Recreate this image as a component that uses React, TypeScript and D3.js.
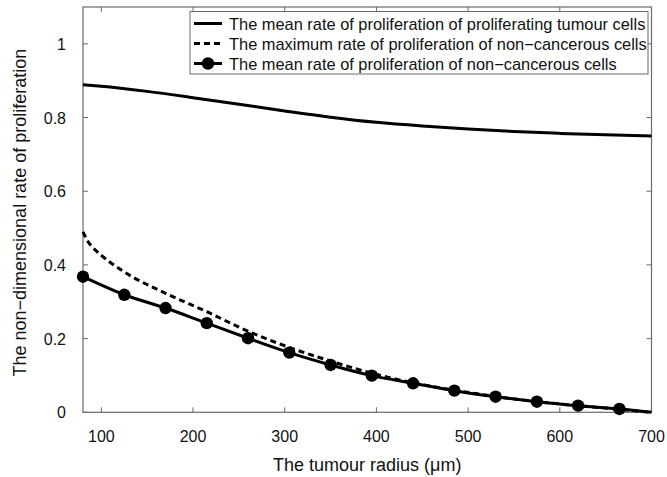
import React from "react";
import * as d3 from "d3";

const xTicks = [100, 200, 300, 400, 500, 600, 700];
const yTicks = [0, 0.2, 0.4, 0.6, 0.8, 1];
const yTickLabels = ["0", "0.2", "0.4", "0.6", "0.8", "1"];

const tumourX = [80, 100, 150, 200, 250, 300, 350, 400, 450, 500, 550, 600, 650, 700];
const tumourY = [0.889, 0.885, 0.871, 0.854, 0.836, 0.818, 0.801, 0.787, 0.777, 0.769, 0.762, 0.757, 0.753, 0.75];

const maxX = [80, 85, 92, 100, 125, 170, 215, 260, 305, 350, 395, 440, 485, 530, 575, 620, 665, 700];
const maxY = [0.49, 0.465, 0.444, 0.426, 0.381, 0.323, 0.273, 0.22, 0.176, 0.139, 0.106, 0.08, 0.06, 0.043, 0.029, 0.018, 0.008, 0.0];

const meanX = [80, 125, 170, 215, 260, 305, 350, 395, 440, 485, 530, 575, 620, 665, 700];
const meanY = [0.368, 0.319, 0.283, 0.242, 0.201, 0.162, 0.1285, 0.0995, 0.0788, 0.0587, 0.0424, 0.0288, 0.018, 0.009, 0.0];
const markerCount = 14;

const legendLabels = [
  "The mean rate of proliferation of proliferating tumour cells",
  "The maximum rate of proliferation of non\u2212cancerous cells",
  "The mean rate of proliferation of non\u2212cancerous cells",
];

const W = 667;
const H = 477;
const M = { left: 83, right: 667 - 651.5, top: 7, bottom: 477 - 412.3 };
const FONT = "'Liberation Sans', Arial, Helvetica, sans-serif";

export default function App() {
  const x = d3.scaleLinear().domain([80, 700]).range([M.left, W - M.right]);
  const y = d3.scaleLinear().domain([0, 1.1]).range([H - M.bottom, M.top]);
  const line = d3
    .line<[number, number]>()
    .x((d) => x(d[0]))
    .y((d) => y(d[1]))
    .curve(d3.curveMonotoneX);

  const tumour = tumourX.map((v, i) => [v, tumourY[i]] as [number, number]);
  const maxd = maxX.map((v, i) => [v, maxY[i]] as [number, number]);
  const mean = meanX.map((v, i) => [v, meanY[i]] as [number, number]);

  const x0 = M.left;
  const x1 = W - M.right;
  const y0 = H - M.bottom;
  const y1 = M.top;
  const tickLen = 5;
  const frameColor = "#6a6a6a";

  const lg = { left: 190, top: 11.5, right: 648, rowH: 20 };
  const lgBottom = 74;

  return (
    <svg width={W} height={H} style={{ position: "absolute", left: 0, top: 0, background: "#fff" }} fontFamily={FONT}>
      <rect x={0} y={0} width={W} height={H} fill="#fff" />
      {/* frame */}
      <rect x={x0} y={y1} width={x1 - x0} height={y0 - y1} fill="none" stroke={frameColor} strokeWidth={1.2} />
      {xTicks.map((t) => (
        <g key={"xt" + t}>
          <line x1={x(t)} x2={x(t)} y1={y0} y2={y0 - tickLen} stroke={frameColor} strokeWidth={1} />
          <line x1={x(t)} x2={x(t)} y1={y1} y2={y1 + tickLen} stroke={frameColor} strokeWidth={1} />
          <text x={x(t)} y={442} textAnchor="middle" fontSize={16} fill="#111">
            {t}
          </text>
        </g>
      ))}
      {yTicks.map((t, i) => (
        <g key={"yt" + t}>
          <line x1={x0} x2={x0 + tickLen} y1={y(t)} y2={y(t)} stroke={frameColor} strokeWidth={1} />
          <line x1={x1} x2={x1 - tickLen} y1={y(t)} y2={y(t)} stroke={frameColor} strokeWidth={1} />
          <text x={66} y={y(t) + 6} textAnchor="end" fontSize={16} fill="#111">
            {yTickLabels[i]}
          </text>
        </g>
      ))}
      {/* curves */}
      <path d={line(tumour) || ""} fill="none" stroke="#000" strokeWidth={3} />
      <path d={line(maxd) || ""} fill="none" stroke="#000" strokeWidth={3} strokeDasharray="6,4" />
      <path d={line(mean) || ""} fill="none" stroke="#000" strokeWidth={3} />
      {mean.slice(0, markerCount).map((d, i) => (
        <circle key={"m" + i} cx={x(d[0])} cy={y(d[1])} r={6.2} fill="#000" />
      ))}
      {/* axis titles */}
      <text x={(x0 + x1) / 2} y={471} textAnchor="middle" fontSize={18} fill="#111">
        The tumour radius ({"\u03bc"}m)
      </text>
      <text transform={`translate(26, ${(y0 + y1) / 2 + 3}) rotate(-90)`} textAnchor="middle" fontSize={18} fill="#111">
        The non{"\u2212"}dimensional rate of proliferation
      </text>
      {/* legend */}
      <rect x={lg.left} y={lg.top} width={lg.right - lg.left} height={lgBottom - lg.top} fill="#fff" stroke={frameColor} strokeWidth={1} />
      {legendLabels.map((lab, i) => {
        const cy = 23.5 + i * lg.rowH;
        return (
          <g key={"lg" + i}>
            <line
              x1={lg.left + 4}
              x2={lg.left + 32}
              y1={cy}
              y2={cy}
              stroke="#000"
              strokeWidth={3}
              strokeDasharray={i === 1 ? "6,4" : undefined}
            />
            {i === 2 && <circle cx={lg.left + 18} cy={cy} r={6.2} fill="#000" />}
            <text x={lg.left + 39} y={cy + 6} fontSize={16.4} fill="#111">
              {lab}
            </text>
          </g>
        );
      })}
    </svg>
  );
}
